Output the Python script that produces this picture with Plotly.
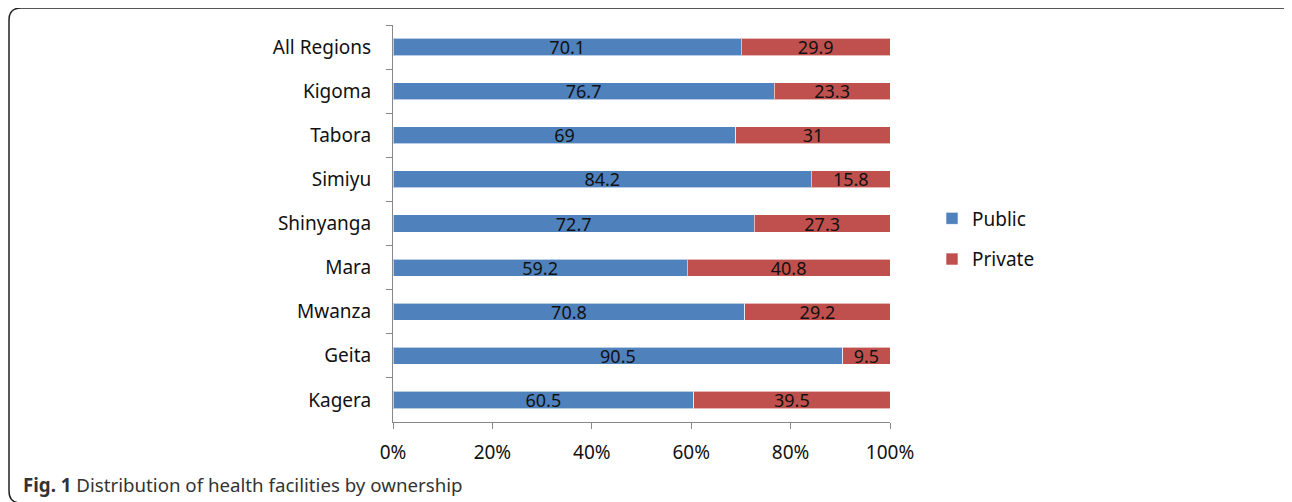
import plotly.graph_objects as go

regions = ["All Regions", "Kigoma", "Tabora", "Simiyu", "Shinyanga", "Mara", "Mwanza", "Geita", "Kagera"]
public = [70.1, 76.7, 69, 84.2, 72.7, 59.2, 70.8, 90.5, 60.5]
private = [29.9, 23.3, 31, 15.8, 27.3, 40.8, 29.2, 9.5, 39.5]
x_ticks = [0, 20, 40, 60, 80, 100]
x_tick_labels = ["0%", "20%", "40%", "60%", "80%", "100%"]

# page body has an 8px margin; work in page pixels and convert
O = 8
W, H = 1292 - O, 502 - O
L, R, T, B = 393, 890, 25, 422  # page pixel positions of plot area

FONT = "Noto Sans"
TXT = "#111111"

fig = go.Figure()
for name, vals, col, grp in [("Public", public, "#4F81BD", "a"), ("Private", private, "#C0504D", "b")]:
    fig.add_trace(go.Bar(
        y=regions, x=vals, orientation="h", name=name,
        marker=dict(color=col, line=dict(color="rgba(255,255,255,0.6)", width=1)),
        text=[str(v) for v in vals], textposition="inside", insidetextanchor="middle",
        textangle=0, constraintext="none",
        textfont=dict(family=FONT, size=18, color=TXT), legendgroup=grp,
        hoverinfo="x+y",
    ))

def px_x(p):
    return (p - L) / (R - L)

def px_y(p):
    return (B - p) / (B - T)

# rounded frame
x0, x1, y0, y1, r = 9, 1298, 8, 503, 12
rx = r / (R - L)
ry = r / (B - T)
path = (
    f"M {px_x(x0)+rx},{px_y(y0)} L {px_x(x1)-rx},{px_y(y0)} "
    f"Q {px_x(x1)},{px_y(y0)} {px_x(x1)},{px_y(y0)-ry} "
    f"L {px_x(x1)},{px_y(y1)+ry} Q {px_x(x1)},{px_y(y1)} {px_x(x1)-rx},{px_y(y1)} "
    f"L {px_x(x0)+rx},{px_y(y1)} Q {px_x(x0)},{px_y(y1)} {px_x(x0)},{px_y(y1)+ry} "
    f"L {px_x(x0)},{px_y(y0)-ry} Q {px_x(x0)},{px_y(y0)} {px_x(x0)+rx},{px_y(y0)} Z"
)
fig.add_shape(type="path", path=path, xref="paper", yref="paper",
              line=dict(color="#222222", width=1.5), layer="above")

fig.add_annotation(
    text="<b>Fig. 1</b> Distribution of health facilities by ownership",
    xref="paper", yref="paper", x=px_x(21), y=px_y(484), xanchor="left", yanchor="middle",
    showarrow=False, font=dict(family=FONT, size=18.7, color="#333333"),
)

fig.update_layout(
    width=W, height=H,
    margin=dict(l=L - O, r=W - (R - O), t=T - O, b=H - (B - O), pad=0),
    barmode="stack", bargap=0.61,
    plot_bgcolor="white", paper_bgcolor="white",
    font=dict(family=FONT, size=19, color=TXT),
    uniformtext=dict(minsize=18, mode="show"),
    showlegend=True,
    legend=dict(x=px_x(932), y=px_y(239), xanchor="left", yanchor="middle",
                font=dict(family=FONT, size=19, color=TXT), tracegroupgap=13,
                bgcolor="rgba(0,0,0,0)"),
    xaxis=dict(range=[0, 100], tickvals=x_ticks, ticktext=x_tick_labels,
               showgrid=False, zeroline=False, showline=True, linecolor="#888888",
               linewidth=1, ticks="outside", ticklen=6, tickcolor="#888888",
               ticklabelstandoff=7,
               tickfont=dict(family=FONT, size=19, color=TXT), fixedrange=True),
    yaxis=dict(categoryorder="array", categoryarray=regions, autorange="reversed",
               showgrid=False, zeroline=False, showline=True, linecolor="#888888",
               linewidth=1, ticks="outside", ticklen=6, tickcolor="#888888",
               tickson="boundaries", ticklabelstandoff=17,
               tickfont=dict(family=FONT, size=19, color=TXT), fixedrange=True),
)

fig.write_html("out.html")
